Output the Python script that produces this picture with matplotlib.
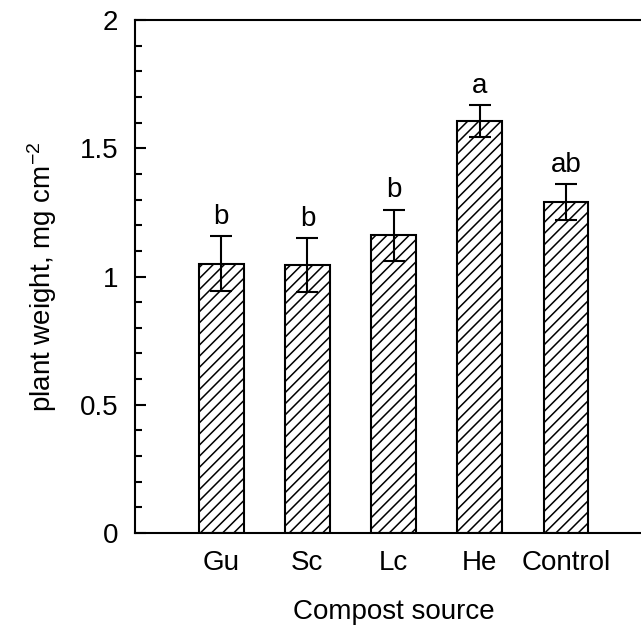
import matplotlib
matplotlib.use("Agg")
import matplotlib.pyplot as plt
from matplotlib.ticker import MultipleLocator

# values
sources = ["Gu", "Sc", "Lc", "He", "Control"]
weight = [1.05, 1.045, 1.16, 1.605, 1.29]
err = [0.108, 0.105, 0.10, 0.063, 0.07]
letters = ["b", "b", "b", "a", "ab"]

plt.rcParams['font.family'] = ['Liberation Sans', 'DejaVu Sans']
plt.rcParams['mathtext.default'] = 'regular'
plt.rcParams['hatch.linewidth'] = 1.1

fig = plt.figure(figsize=(6.41, 6.31), dpi=100)
ax = fig.add_axes([0.2106, 0.1553, 0.807, 0.813])

pos = list(range(1, len(sources) + 1))
ax.bar(pos, weight, width=0.52, color='white', edgecolor='black',
       linewidth=1.5, hatch='///', zorder=2)
ax.errorbar(pos, weight, yerr=err, fmt='none', ecolor='black',
            elinewidth=1.5, capsize=8, capthick=1.5, zorder=3)
for x, y, e, s in zip(pos, weight, err, letters):
    ax.text(x, y + e + 0.025, s, ha='center', va='bottom', fontsize=20)

ax.set_xlim(0, 6)
ax.set_ylim(0, 2)
ax.set_xticks(pos)
ax.set_xticklabels(sources)
ax.yaxis.set_major_locator(MultipleLocator(0.5))
ax.yaxis.set_minor_locator(MultipleLocator(0.1))
ax.yaxis.set_major_formatter(plt.FuncFormatter(lambda v, p: f"{v:g}"))

ax.tick_params(axis='x', length=0, pad=12, labelsize=20)
ax.tick_params(axis='y', which='major', direction='in', length=8, width=1.5,
               pad=12, labelsize=20)
ax.tick_params(axis='y', which='minor', direction='in', length=5, width=1.5)

for side in ['left', 'bottom', 'top']:
    ax.spines[side].set_linewidth(1.5)
ax.spines['right'].set_visible(False)

ax.set_xlabel("Compost source", fontsize=20, labelpad=17)
ax.set_ylabel("plant weight, mg cm$^{-2}$", fontsize=20, labelpad=15)

fig.savefig("out.png", dpi=100)
